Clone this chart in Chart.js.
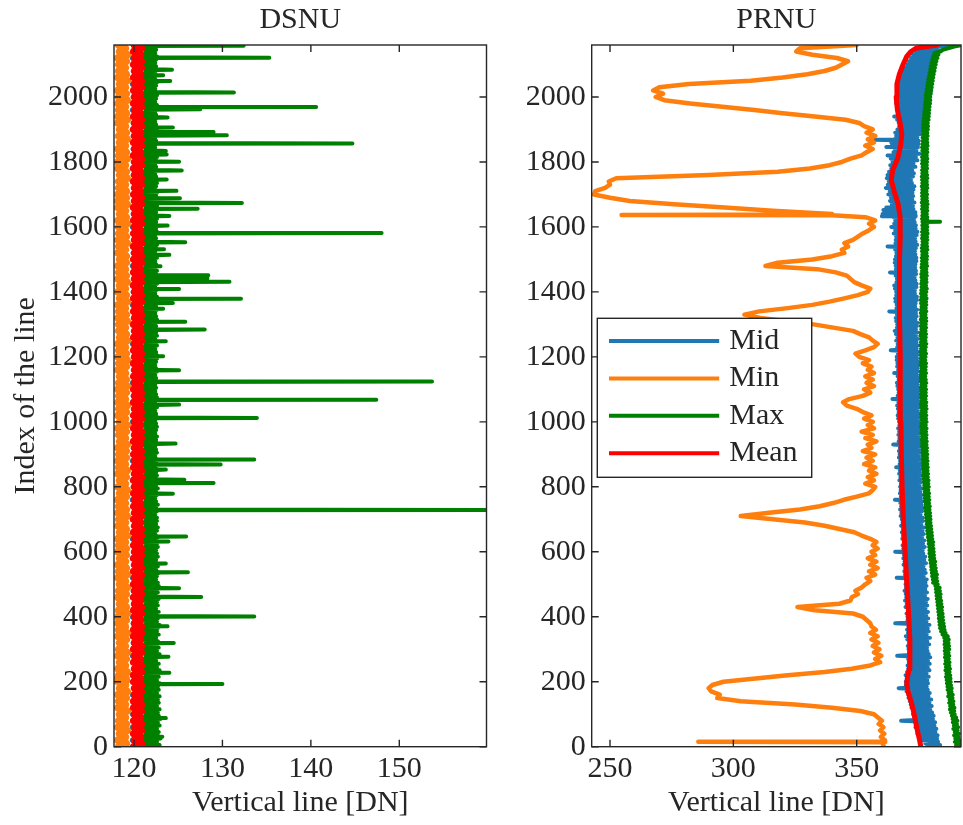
<!DOCTYPE html>
<html>
<head>
<meta charset="utf-8">
<script src="https://cdn.jsdelivr.net/npm/chart.js@4.4.0/dist/chart.umd.min.js"></script>
<style>
  body { margin: 0; background: #fff; }
  #wrap { position: relative; width: 963px; height: 825px; }
  canvas { position: absolute; top: 0; }
</style>
</head>
<body>
<div id="wrap">
  <canvas id="dsnu" width="490" height="825" style="left:0px"></canvas>
  <canvas id="prnu" width="473" height="825" style="left:490px"></canvas>
</div>
<script>
// line index (y axis) for values read every 10 lines
const lineIndex = [
  0,10,20,30,40,50,60,70,80,90,
  100,110,120,130,140,150,160,170,180,190,
  200,210,220,230,240,250,260,270,280,290,
  300,310,320,330,340,350,360,370,380,390,
  400,410,420,430,440,450,460,470,480,490,
  500,510,520,530,540,550,560,570,580,590,
  600,610,620,630,640,650,660,670,680,690,
  700,710,720,730,740,750,760,770,780,790,
  800,810,820,830,840,850,860,870,880,890,
  900,910,920,930,940,950,960,970,980,990,
  1000,1010,1020,1030,1040,1050,1060,1070,1080,1090,
  1100,1110,1120,1130,1140,1150,1160,1170,1180,1190,
  1200,1210,1220,1230,1240,1250,1260,1270,1280,1290,
  1300,1310,1320,1330,1340,1350,1360,1370,1380,1390,
  1400,1410,1420,1430,1440,1450,1460,1470,1480,1490,
  1500,1510,1520,1530,1540,1550,1560,1570,1580,1590,
  1600,1610,1620,1630,1640,1650,1660,1670,1680,1690,
  1700,1710,1720,1730,1740,1750,1760,1770,1780,1790,
  1800,1810,1820,1830,1840,1850,1860,1870,1880,1890,
  1900,1910,1920,1930,1940,1950,1960,1970,1980,1990,
  2000,2010,2020,2030,2040,2050,2060,2070,2080,2090,
  2100,2110,2120,2130,2140,2150,2160
];
// line index for the noisier series, read every 5 lines
const fineIndex = [
  0,5,10,15,20,25,30,35,40,45,50,55,60,65,70,75,80,85,90,95,
  100,105,110,115,120,125,130,135,140,145,150,155,160,165,170,175,180,185,190,195,
  200,205,210,215,220,225,230,235,240,245,250,255,260,265,270,275,280,285,290,295,
  300,305,310,315,320,325,330,335,340,345,350,355,360,365,370,375,380,385,390,395,
  400,405,410,415,420,425,430,435,440,445,450,455,460,465,470,475,480,485,490,495,
  500,505,510,515,520,525,530,535,540,545,550,555,560,565,570,575,580,585,590,595,
  600,605,610,615,620,625,630,635,640,645,650,655,660,665,670,675,680,685,690,695,
  700,705,710,715,720,725,730,735,740,745,750,755,760,765,770,775,780,785,790,795,
  800,805,810,815,820,825,830,835,840,845,850,855,860,865,870,875,880,885,890,895,
  900,905,910,915,920,925,930,935,940,945,950,955,960,965,970,975,980,985,990,995,
  1000,1005,1010,1015,1020,1025,1030,1035,1040,1045,1050,1055,1060,1065,1070,1075,1080,1085,1090,1095,
  1100,1105,1110,1115,1120,1125,1130,1135,1140,1145,1150,1155,1160,1165,1170,1175,1180,1185,1190,1195,
  1200,1205,1210,1215,1220,1225,1230,1235,1240,1245,1250,1255,1260,1265,1270,1275,1280,1285,1290,1295,
  1300,1305,1310,1315,1320,1325,1330,1335,1340,1345,1350,1355,1360,1365,1370,1375,1380,1385,1390,1395,
  1400,1405,1410,1415,1420,1425,1430,1435,1440,1445,1450,1455,1460,1465,1470,1475,1480,1485,1490,1495,
  1500,1505,1510,1515,1520,1525,1530,1535,1540,1545,1550,1555,1560,1565,1570,1575,1580,1585,1590,1595,
  1600,1605,1610,1615,1620,1625,1630,1635,1640,1645,1650,1655,1660,1665,1670,1675,1680,1685,1690,1695,
  1700,1705,1710,1715,1720,1725,1730,1735,1740,1745,1750,1755,1760,1765,1770,1775,1780,1785,1790,1795,
  1800,1805,1810,1815,1820,1825,1830,1835,1840,1845,1850,1855,1860,1865,1870,1875,1880,1885,1890,1895,
  1900,1905,1910,1915,1920,1925,1930,1935,1940,1945,1950,1955,1960,1965,1970,1975,1980,1985,1990,1995,
  2000,2005,2010,2015,2020,2025,2030,2035,2040,2045,2050,2055,2060,2065,2070,2075,2080,2085,2090,2095,
  2100,2105,2110,2115,2120,2125,2130,2135,2140,2145,2150,2155,2160
];

const seriesNames = ['Mid', 'Min', 'Max', 'Mean'];
const yTicks = [0, 200, 400, 600, 800, 1000, 1200, 1400, 1600, 1800, 2000];
const dsnuXTicks = [120, 130, 140, 150];
const prnuXTicks = [250, 300, 350];

// ---- DSNU ----
const dsnuMid = [
  120.0,120.8,119.9,120.9,120.1,120.7,119.9,120.8,120.0,120.9,
  119.9,120.8,120.1,120.9,120.0,120.7,119.9,120.9,120.1,120.8,
  120.0,120.9,119.9,120.8,120.1,120.9,120.0,120.7,119.9,120.8,
  120.1,120.8,120.0,120.9,119.9,120.8,120.1,120.7,120.0,120.9,
  119.9,120.9,120.0,120.8,120.1,120.7,119.9,120.9,120.0,120.8,
  120.0,120.7,119.9,120.9,120.0,120.8,120.1,120.9,119.9,120.8,
  120.1,120.9,120.0,120.8,119.9,120.9,120.0,120.7,120.1,120.8,
  119.9,120.8,120.1,120.9,120.0,120.8,119.9,120.9,120.0,120.7,
  120.0,120.9,119.9,120.7,120.1,120.8,120.0,120.9,119.9,120.8,
  120.1,120.8,120.0,120.9,119.9,120.7,120.1,120.8,120.0,120.9,
  119.9,120.7,120.0,120.8,120.1,120.9,119.9,120.8,120.0,120.9,
  120.0,120.9,119.9,120.8,120.0,120.7,120.1,120.9,119.9,120.8,
  120.1,120.8,120.0,120.9,119.9,120.8,120.0,120.7,120.1,120.9,
  119.9,120.9,120.1,120.7,120.0,120.8,119.9,120.9,120.0,120.8,
  120.0,120.8,119.9,120.9,120.1,120.8,120.0,120.9,119.9,120.7,
  120.1,120.9,120.0,120.8,119.9,120.9,120.1,120.7,120.0,120.8,
  119.9,120.8,120.0,120.9,120.0,120.7,119.9,120.8,120.1,120.9,
  120.0,120.7,120.1,120.8,119.9,120.9,120.0,120.8,119.9,120.9,
  120.1,120.9,119.9,120.8,120.0,120.9,120.1,120.7,120.0,120.8,
  119.9,120.8,120.0,120.9,120.1,120.8,119.9,120.9,120.0,120.7,
  120.0,120.9,120.1,120.7,119.9,120.8,120.0,120.9,120.1,120.8,
  120.0,120.8,119.9,120.9,120.1,120.8,120.0
];
const dsnuMin = [
  118.3,119.1,118.2,119.0,118.4,119.2,118.2,119.1,118.3,119.0,
  118.4,119.2,118.2,119.0,118.3,119.1,118.2,119.2,118.4,119.0,
  118.2,119.1,118.3,119.2,118.2,119.0,118.4,119.1,118.2,119.2,
  118.3,119.0,118.4,119.1,118.2,119.2,118.3,119.0,118.2,119.1,
  118.2,119.2,118.3,119.1,118.4,119.0,118.2,119.1,118.3,119.2,
  118.4,119.0,118.2,119.2,118.3,119.1,118.2,119.0,118.4,119.1,
  118.2,119.1,118.3,119.0,118.2,119.2,118.4,119.1,118.2,119.0,
  118.3,119.2,118.2,119.1,118.3,119.0,118.2,119.1,118.4,119.2,
  118.2,119.0,118.4,119.1,118.2,119.2,118.3,119.0,118.2,119.1,
  118.3,119.1,118.2,119.2,118.4,119.0,118.3,119.1,118.2,119.2,
  118.4,119.0,118.2,119.1,118.3,119.2,118.2,119.0,118.3,119.1,
  118.2,119.2,118.3,119.1,118.4,119.0,118.2,119.1,118.3,119.2,
  118.2,119.1,118.3,119.0,118.2,119.2,118.4,119.1,118.3,119.0,
  118.3,119.2,118.2,119.1,118.3,119.0,118.2,119.2,118.4,119.1,
  118.2,119.0,118.4,119.2,118.2,119.1,118.3,119.0,118.2,119.1,
  118.4,119.1,118.2,119.0,118.3,119.2,118.2,119.1,118.3,119.0,
  118.3,119.2,118.2,119.1,118.4,119.0,118.2,119.2,118.2,119.1,
  118.2,119.1,118.3,119.0,118.3,119.2,118.4,119.1,118.2,119.0,
  118.2,119.2,118.3,119.1,118.2,119.0,118.4,119.2,118.3,119.1,
  118.4,119.0,118.2,119.2,118.2,119.1,118.3,119.0,118.2,119.2,
  118.3,119.1,118.2,119.0,118.4,119.2,118.2,119.1,118.3,119.0,
  118.3,119.1,118.2,119.2,118.4,119.0,118.3
];
const dsnuMinSpikes = [[205, 117.75]];
const dsnuMax = [
  121.2,122.9,121.3,122.6,121.1,123.0,121.2,122.7,121.3,122.8,121.2,122.6,121.1,122.9,121.3,122.7,121.2,123.0,121.1,122.8,
  121.3,122.7,121.2,122.9,121.1,122.6,121.3,122.8,121.2,122.7,121.1,122.9,121.2,122.6,121.3,122.8,121.1,122.7,121.2,122.9,
  121.2,122.6,121.1,122.8,121.3,122.7,121.2,122.9,121.1,122.6,121.3,122.8,121.2,122.5,121.1,122.7,121.3,122.9,121.2,122.6,
  121.1,122.8,121.2,122.6,121.3,122.7,121.1,122.5,121.2,122.8,121.3,122.6,121.1,122.7,121.2,122.9,121.3,122.6,121.1,122.7,
  121.3,122.6,121.2,122.8,121.1,122.5,121.2,122.7,121.3,122.6,121.1,122.8,121.2,122.5,121.3,122.7,121.1,122.6,121.2,122.8,
  121.2,122.7,121.3,122.5,121.1,122.6,121.2,122.8,121.3,122.5,121.2,122.7,121.1,122.6,121.3,122.5,121.2,122.7,121.1,122.6,
  121.1,122.5,121.2,122.7,121.3,122.6,121.1,122.5,121.2,122.7,121.3,122.4,121.2,122.6,121.1,122.7,121.3,122.5,121.2,122.6,
  121.3,122.6,121.1,122.4,121.2,122.6,121.3,122.5,121.1,122.7,121.2,122.5,121.3,122.4,121.1,122.6,121.2,122.5,121.3,122.7,
  121.2,122.5,121.3,122.6,121.1,122.4,121.2,122.6,121.3,122.5,121.1,122.6,121.2,122.4,121.3,122.5,121.1,122.7,121.2,122.4,
  121.1,122.6,121.2,122.5,121.3,122.4,121.1,122.6,121.2,122.5,121.3,122.6,121.1,122.4,121.2,122.5,121.3,122.6,121.1,122.5,
  121.3,122.4,121.2,122.6,121.1,122.5,121.3,122.4,121.2,122.6,121.1,122.5,121.3,122.4,121.2,122.6,121.1,122.5,121.3,122.4,
  121.2,122.5,121.1,122.4,121.3,122.6,121.2,122.5,121.1,122.4,121.3,122.6,121.2,122.5,121.1,122.4,121.3,122.5,121.2,122.6,
  121.1,122.6,121.3,122.5,121.2,122.4,121.1,122.6,121.3,122.5,121.2,122.4,121.1,122.6,121.3,122.5,121.2,122.4,121.1,122.5,
  121.3,122.4,121.2,122.6,121.1,122.5,121.3,122.4,121.2,122.6,121.1,122.5,121.3,122.4,121.2,122.5,121.1,122.6,121.3,122.4,
  121.2,122.5,121.1,122.4,121.3,122.6,121.2,122.5,121.1,122.4,121.3,122.5,121.2,122.6,121.1,122.4,121.3,122.5,121.2,122.4,
  121.1,122.6,121.3,122.5,121.2,122.4,121.1,122.5,121.3,122.6,121.2,122.4,121.1,122.5,121.3,122.4,121.2,122.6,121.1,122.5,
  121.3,122.4,121.2,122.5,121.1,122.6,121.3,122.4,121.2,122.5,121.1,122.4,121.3,122.6,121.2,122.5,121.1,122.4,121.3,122.5,
  121.2,122.6,121.1,122.4,121.3,122.5,121.2,122.6,121.1,122.4,121.3,122.5,121.2,122.4,121.1,122.6,121.3,122.5,121.2,122.4,
  121.1,122.5,121.3,122.6,121.2,122.4,121.1,122.5,121.3,122.4,121.2,122.6,121.1,122.5,121.3,122.4,121.2,122.5,121.1,122.6,
  121.3,122.4,121.2,122.5,121.1,122.4,121.3,122.6,121.2,122.5,121.1,122.4,121.3,122.5,121.2,122.6,121.1,122.4,121.3,122.5,
  121.2,122.6,121.1,122.5,121.3,122.4,121.2,122.5,121.1,122.6,121.3,122.4,121.2,122.5,121.1,122.4,121.3,122.6,121.2,122.5,
  121.1,122.4,121.3,122.5,121.2,122.6,121.1,122.4,121.3,122.5,121.2,122.6,121.2
];
// single hot lines: [line index, value]
const dsnuMaxSpikes = [
  [31,123.2],[88,123.6],[193,130.0],[228,124.0],[277,123.9],[319,124.5],[371,123.8],
  [401,133.6],[461,127.6],[488,125.1],[537,126.1],[564,123.6],[632,123.9],[647,125.9],
  [729,160.0],[779,124.4],[812,129.0],[822,125.7],[853,123.6],[869,129.8],[884,133.6],
  [933,124.7],[1012,133.9],[1053,125.1],[1068,147.4],[1124,153.7],[1159,125.1],
  [1202,123.3],[1248,123.6],[1284,128.0],[1308,125.8],[1348,123.3],[1366,124.4],
  [1379,132.1],[1409,125.1],[1431,130.8],[1441,128.3],[1446,128.3],[1451,128.4],
  [1479,123.0],[1514,124.0],[1531,123.4],[1553,125.8],[1581,148.0],[1604,123.8],
  [1634,124.0],[1656,127.2],[1674,132.2],[1688,125.2],[1711,124.8],[1746,123.7],
  [1774,125.4],[1801,125.1],[1823,123.7],[1834,123.6],[1857,144.7],[1882,130.5],
  [1892,129.0],[1906,124.4],[1937,123.8],[1962,127.5],[1969,140.6],[2014,131.3],
  [2049,124.1],[2067,123.3],[2084,124.3],[2121,135.3],[2158,132.4]
];
const dsnuMean = [
  120.0,120.8,120.1,120.7,120.0,120.8,120.1,120.8,120.0,120.7,
  120.1,120.8,120.0,120.8,120.0,120.7,120.1,120.8,120.1,120.8,
  120.0,120.7,120.0,120.8,120.1,120.8,120.0,120.7,120.1,120.8,
  120.0,120.8,120.1,120.7,120.0,120.8,120.0,120.8,120.1,120.7,
  120.1,120.8,120.0,120.8,120.1,120.7,120.0,120.8,120.1,120.8,
  120.0,120.7,120.1,120.8,120.0,120.8,120.1,120.7,120.0,120.8,
  120.1,120.8,120.0,120.7,120.1,120.8,120.0,120.8,120.1,120.7,
  120.0,120.8,120.1,120.8,120.0,120.7,120.1,120.8,120.0,120.8,
  120.1,120.7,120.0,120.8,120.1,120.8,120.0,120.7,120.1,120.8,
  120.0,120.8,120.1,120.7,120.0,120.8,120.1,120.8,120.0,120.7,
  120.1,120.8,120.0,120.8,120.1,120.7,120.0,120.8,120.1,120.8,
  120.0,120.7,120.1,120.8,120.0,120.8,120.1,120.7,120.0,120.8,
  120.1,120.8,120.0,120.7,120.1,120.8,120.0,120.8,120.1,120.7,
  120.0,120.8,120.1,120.8,120.0,120.7,120.1,120.8,120.0,120.8,
  120.1,120.7,120.0,120.8,120.1,120.8,120.0,120.7,120.1,120.8,
  120.0,120.8,120.1,120.7,120.0,120.8,120.1,120.8,120.0,120.7,
  120.1,120.8,120.0,120.8,120.1,120.7,120.0,120.8,120.1,120.8,
  120.0,120.7,120.1,120.8,120.0,120.8,120.1,120.7,120.0,120.8,
  120.1,120.8,120.0,120.7,120.1,120.8,120.0,120.8,120.1,120.7,
  120.0,120.8,120.1,120.8,120.0,120.7,120.1,120.8,120.0,120.8,
  120.1,120.7,120.0,120.8,120.1,120.8,120.0,120.7,120.1,120.8,
  120.0,120.8,120.1,120.7,120.0,120.8,120.1
];

// ---- PRNU ----
const prnuMid = [
  378.5,383.8,377.8,383.0,376.0,382.6,375.2,382.8,374.6,381.9,374.9,382.3,373.8,381.5,374.2,381.8,368.0,380.9,373.4,381.2,
  372.8,380.6,373.0,379.8,372.2,380.4,371.9,379.5,371.5,380.2,371.0,379.1,370.9,379.6,370.2,378.8,367.0,378.4,369.9,378.9,
  369.9,378.6,370.3,379.2,369.8,378.3,370.4,379.5,370.9,378.8,370.6,379.6,371.1,378.9,370.8,379.8,366.4,379.2,371.2,378.7,
  371.0,378.5,370.7,379.4,371.3,378.6,370.5,379.7,369.9,378.4,370.8,379.2,370.4,378.8,371.0,379.5,365.6,378.3,370.6,379.0,
  370.6,378.2,370.2,378.9,370.8,377.9,369.8,378.6,370.3,378.1,369.6,378.8,370.1,377.7,369.9,378.5,369.4,377.8,370.0,378.3,
  369.8,377.9,370.1,378.4,366.2,377.2,369.6,378.0,369.3,377.6,369.8,377.1,369.0,378.1,369.4,377.4,368.9,377.8,369.2,377.0,
  365.6,376.8,368.9,377.6,368.6,376.9,369.1,377.4,368.5,376.5,368.8,377.2,368.3,376.7,368.9,377.3,368.0,376.2,368.6,376.9,
  368.3,376.8,367.8,375.9,368.1,376.5,367.6,377.0,368.0,376.2,367.7,376.7,365.5,376.0,367.9,376.4,367.5,375.8,367.8,376.6,
  367.6,375.5,367.9,376.3,367.3,375.8,367.7,376.4,367.2,375.6,367.5,376.0,366.0,376.8,367.4,375.4,367.6,376.1,367.1,375.2,
  367.4,376.0,367.1,375.3,367.5,375.9,364.8,376.2,367.0,375.5,367.3,375.0,366.9,375.7,367.2,375.8,366.8,375.1,367.3,375.6,
  367.2,375.1,366.8,375.8,366.6,376.0,367.0,374.8,366.7,375.4,366.4,375.6,366.9,374.9,364.5,375.3,366.6,374.7,367.0,375.2,
  366.8,375.3,366.5,374.6,366.3,375.0,367.0,375.5,366.6,374.4,365.2,374.8,366.8,374.6,366.4,375.1,366.5,375.0,366.2,374.5,
  366.2,374.5,366.7,375.0,363.8,374.3,366.4,374.8,366.6,374.2,366.0,374.7,366.5,374.0,365.9,374.6,365.4,374.0,366.3,374.4,
  366.4,374.6,366.0,373.8,365.8,374.3,366.3,374.0,363.2,374.5,366.1,373.7,366.2,373.9,365.7,374.4,365.6,374.4,366.0,373.6,
  366.0,373.6,365.5,374.2,365.2,374.3,366.1,373.8,366.3,373.5,365.8,374.1,363.5,374.0,365.9,373.7,365.8,373.8,365.4,374.2,
  365.5,374.2,365.9,373.8,366.1,373.6,365.6,374.0,362.5,374.5,365.7,373.9,365.8,373.7,366.0,374.3,365.0,374.6,365.6,373.9,
  364.0,374.0,365.2,373.5,365.6,373.2,364.8,373.9,360.5,373.8,364.6,373.0,362.0,372.8,364.2,373.4,363.5,372.5,363.9,372.9,
  362.8,372.6,363.4,373.0,361.8,373.4,362.6,372.4,363.0,372.0,362.2,372.8,362.5,373.2,363.1,372.5,364.0,373.8,363.6,373.0,
  364.5,374.6,363.8,374.0,362.5,375.4,364.9,374.2,365.5,374.8,364.2,375.0,364.0,375.2,365.3,374.6,366.0,375.6,365.6,375.9,
  366.5,377.8,367.2,378.2,367.0,378.5,366.4,377.9,365.2,379.0,366.9,378.6,366.8,378.2,367.1,379.3,366.0,379.4,366.6,378.8,
  367.5,379.6,367.0,380.0,366.8,380.2,367.4,379.8,367.8,379.5,367.6,380.4,368.2,380.6,368.0,380.1,368.5,380.0,368.9,380.5,
  370.5,380.8,371.2,381.2,372.0,381.5,372.8,382.0,374.0,383.0,378.0,384.5,388.0
];
const prnuMidSpikes = [[1633,360.2],[1652,360.8],[1846,362.0],[1868,357.5]];
const prnuMin = [
  361.0,360.5,361.5,359.8,361.2,359.5,360.8,358.9,360.2,358.6,
  357.0,351.5,340.0,325.0,303.0,293.5,294.5,291.0,290.0,291.5,
  296.0,309.0,322.0,337.0,348.0,355.5,359.5,357.5,360.0,357.0,
  359.2,356.5,358.8,356.0,358.5,355.5,357.8,356.0,355.5,354.0,
  352.5,348.5,333.0,326.0,343.0,347.5,348.0,350.5,349.5,352.0,
  353.5,355.5,354.0,357.5,355.0,358.5,355.5,358.0,354.5,357.5,
  356.0,358.5,356.5,358.0,355.5,352.0,349.0,343.0,337.0,329.0,
  316.0,303.0,314.5,327.0,335.0,340.5,344.8,350.0,355.0,356.5,
  357.5,353.5,357.0,354.5,358.0,355.0,357.5,353.0,356.5,354.0,
  357.5,352.5,356.0,354.5,358.0,353.5,356.5,352.0,357.0,354.5,
  356.5,353.0,356.0,352.5,350.0,346.0,344.5,347.0,352.5,355.5,
  353.0,357.0,354.0,356.5,353.5,357.0,354.5,356.0,352.5,355.0,
  351.0,349.5,353.5,357.0,358.5,356.5,355.0,351.5,348.5,340.5,
  332.5,322.0,311.0,304.5,310.5,322.0,332.0,339.0,345.0,350.5,
  354.5,355.5,352.0,349.0,347.5,346.0,341.5,334.0,313.0,318.0,
  332.0,340.0,345.0,344.0,346.5,345.0,348.5,350.5,352.5,355.0,
  357.0,355.0,357.5,353.5,340.0,316.0,296.5,276.0,258.0,250.0,
  243.5,244.0,248.0,250.0,249.5,252.5,290.0,318.0,331.0,339.0,
  344.0,347.5,352.0,354.0,356.5,353.5,357.0,354.5,357.5,354.0,
  356.5,353.0,351.0,345.5,333.0,320.0,308.5,295.5,282.5,272.0,
  268.5,271.5,267.5,270.0,282.0,307.0,320.0,330.0,337.0,341.5,
  344.0,346.5,342.0,332.0,325.5,327.0,350.0
];
const prnuMinSpikes = [[15,285.8],[1637,254.7]];
const prnuMax = [
  391.8,390.3,391.6,389.8,391.7,390.0,391.2,389.5,391.4,389.8,390.9,389.2,391.1,389.4,390.6,389.0,390.8,388.9,390.3,388.6,
  389.7,388.2,389.5,387.8,389.6,387.9,389.1,387.5,389.2,387.7,388.8,387.1,388.9,387.3,388.4,386.9,388.5,386.8,388.2,386.6,
  388.1,386.5,388.0,386.2,387.9,386.4,387.6,386.0,387.8,386.2,387.5,385.9,387.6,386.1,387.3,385.8,387.5,385.9,387.2,385.7,
  387.5,385.8,387.4,385.6,387.2,385.7,387.3,385.5,386.9,384.8,386.0,384.2,385.6,383.8,385.4,383.6,385.2,383.5,385.0,383.3,
  384.9,383.3,384.8,383.1,384.5,383.0,384.6,382.8,384.3,382.7,384.2,382.5,383.9,382.4,384.0,382.2,383.7,382.1,383.6,381.9,
  382.8,381.0,382.6,380.9,382.4,380.6,382.5,380.5,382.1,380.3,382.0,380.2,381.7,380.0,381.8,379.8,381.4,379.7,381.3,379.5,
  381.2,379.5,381.1,379.4,380.9,379.2,381.0,379.1,380.6,378.9,380.5,378.8,380.4,378.6,380.2,378.5,380.1,378.4,379.9,378.3,
  379.9,378.2,379.8,378.1,379.7,378.0,379.5,377.8,379.6,377.9,379.3,377.7,379.4,377.6,379.2,377.5,379.3,377.6,379.0,377.4,
  379.2,377.4,379.0,377.3,379.1,377.2,378.8,377.0,378.9,377.1,378.7,376.9,378.8,377.0,378.6,376.8,378.7,376.9,378.5,376.7,
  378.6,376.8,378.4,376.7,378.5,376.5,378.3,376.6,378.4,376.4,378.2,376.5,378.3,376.3,378.1,376.4,378.3,376.2,378.0,376.3,
  378.3,376.4,378.1,376.3,378.2,376.2,378.0,376.4,378.3,376.2,378.1,376.1,378.2,376.3,377.9,376.2,378.1,376.0,378.0,376.2,
  378.1,376.1,377.9,376.2,378.2,376.0,378.0,376.1,377.8,375.9,378.1,376.0,377.9,376.2,378.0,375.9,378.1,376.1,377.8,376.0,
  377.9,376.0,378.1,375.9,377.8,376.1,378.0,375.9,378.2,376.0,377.9,376.1,378.0,375.8,378.1,376.0,377.9,376.2,378.1,376.0,
  378.0,376.1,378.2,376.0,378.1,376.2,377.9,376.0,378.2,376.1,378.0,376.3,378.2,376.1,378.1,376.0,378.3,376.2,378.0,376.1,
  378.2,376.2,378.4,376.3,378.1,376.2,378.3,376.4,378.2,376.3,378.4,376.2,378.3,376.5,378.2,376.3,378.5,376.4,378.3,376.5,
  378.4,376.4,378.5,376.6,378.3,376.5,378.6,376.4,378.5,376.6,378.4,376.7,378.6,376.5,378.5,376.6,378.7,376.5,378.5,376.7,
  378.6,376.6,378.5,376.7,378.7,376.5,378.6,376.6,378.4,376.7,378.6,376.5,378.5,376.6,378.7,376.4,378.5,376.6,378.4,376.5,
  378.5,376.5,378.3,376.6,378.6,376.4,378.5,376.6,378.4,376.5,378.6,376.4,378.5,376.6,378.3,376.5,378.5,376.7,378.4,376.5,
  378.5,376.6,378.6,376.5,378.4,376.7,378.6,376.6,378.5,376.5,378.7,376.6,378.6,376.8,378.5,376.7,378.7,376.8,378.6,376.9,
  378.8,376.9,378.9,377.0,378.8,377.1,379.1,377.2,379.2,377.3,379.3,377.4,379.4,377.6,379.5,377.7,379.7,377.8,379.8,378.0,
  379.8,378.0,380.0,378.2,380.2,378.4,380.4,378.6,380.6,378.8,380.8,379.0,381.0,379.3,381.2,379.5,381.5,379.8,381.7,380.0,
  382.0,380.3,382.3,380.6,382.7,381.0,383.1,381.5,384.0,384.8,387.0,389.5,393.0
];
const prnuMaxSpikes = [[1616,383.8]];
const prnuMeanIndex = [
  0,20,50,80,110,140,170,195,215,240,280,330,400,480,560,640,720,800,900,1000,
  1100,1200,1300,1400,1500,1580,1630,1670,1710,1745,1775,1810,1850,1885,1920,
  1960,2000,2040,2070,2100,2125,2140,2150,2160
];
const prnuMean = [
  376.0,375.5,374.6,373.8,373.0,372.0,370.8,370.3,370.6,371.3,371.6,371.5,371.1,
  370.5,369.9,369.3,368.8,368.4,368.1,367.9,367.7,367.6,367.4,367.3,367.4,367.7,
  367.6,366.8,365.2,364.0,364.6,366.6,367.8,368.3,367.6,366.5,366.0,366.3,367.3,
  368.8,370.3,372.0,374.0,382.5
];

const ink = '#262626';
const serif = "'Liberation Serif', 'DejaVu Serif', serif";
const textFont = { family: serif, size: 30, weight: 'normal', lineHeight: 1.2 };
const colors = ['#1f77b4', '#ff7f0e', '#008000', '#ff0000'];

function toPoints(values, idx) {
  return values.map((v, i) => ({ x: v, y: idx[i] }));
}

// a hot line sits between two neighbours at the local level
function withSpikes(values, idx, spikes) {
  const step = idx[1] - idx[0];
  const pts = toPoints(values, idx);
  spikes.forEach(([s, v]) => {
    const base = values[Math.min(values.length - 1, Math.round(s / step))];
    pts.push({ x: base, y: s - 1 }, { x: v, y: s }, { x: base, y: s + 1 });
  });
  return pts.sort((a, b) => a.y - b.y);
}

function makeDatasets(series, widths) {
  return series.map((data, i) => ({
    label: seriesNames[i],
    data: data,
    showLine: true,
    borderColor: colors[i],
    backgroundColor: colors[i],
    borderWidth: widths[i],
    borderJoinStyle: 'round',
    borderCapStyle: 'round',
    pointRadius: 0,
    tension: 0,
    clip: 0,
    order: 3 - i   // Mean drawn on top
  }));
}

// box and inward ticks on all four sides
const framePlugin = {
  id: 'frame',
  afterDatasetsDraw(chart) {
    const { ctx, chartArea: a, scales: { x, y } } = chart;
    const len = 7;
    ctx.save();
    ctx.strokeStyle = ink;
    ctx.lineWidth = 1.4;
    ctx.beginPath();
    x.ticks.forEach(t => {
      const px = x.getPixelForValue(t.value);
      ctx.moveTo(px, a.bottom); ctx.lineTo(px, a.bottom - len);
      ctx.moveTo(px, a.top); ctx.lineTo(px, a.top + len);
    });
    y.ticks.forEach(t => {
      const py = y.getPixelForValue(t.value);
      ctx.moveTo(a.left, py); ctx.lineTo(a.left + len, py);
      ctx.moveTo(a.right, py); ctx.lineTo(a.right - len, py);
    });
    ctx.stroke();
    ctx.strokeRect(a.left, a.top, a.right - a.left, a.bottom - a.top);
    ctx.restore();
  }
};

// legend drawn inside the PRNU axes
const legendPlugin = {
  id: 'insideLegend',
  afterDraw(chart) {
    const { ctx, chartArea: a } = chart;
    const x0 = a.left + 5.6, y0 = a.top + 273.3, w = 214.4, h = 159;
    ctx.save();
    ctx.fillStyle = '#ffffff';
    ctx.fillRect(x0, y0, w, h);
    ctx.strokeStyle = ink;
    ctx.lineWidth = 1.4;
    ctx.strokeRect(x0, y0, w, h);
    ctx.font = '30px ' + serif;
    ctx.textBaseline = 'middle';
    ctx.textAlign = 'left';
    chart.data.datasets.forEach((ds, i) => {
      const yy = y0 + 22.7 + i * 37.4;
      ctx.strokeStyle = ds.borderColor;
      ctx.lineWidth = 4;
      ctx.beginPath();
      ctx.moveTo(x0 + 11.7, yy);
      ctx.lineTo(x0 + 121.9, yy);
      ctx.stroke();
      ctx.fillStyle = ink;
      ctx.fillText(ds.label, x0 + 132, yy);
    });
    ctx.restore();
  }
};

function makeOptions(p) {
  return {
    responsive: false,
    animation: false,
    devicePixelRatio: 1,
    events: [],
    layout: { padding: { left: 0, right: p.padRight, top: 0, bottom: 0 } },
    plugins: {
      legend: { display: false },
      tooltip: { enabled: false },
      title: {
        display: true, text: p.title, color: ink, font: textFont,
        fullSize: false, padding: { top: 2.3, bottom: 6.7 }
      }
    },
    scales: {
      x: {
        type: 'linear', position: 'bottom', min: p.xMin, max: p.xMax,
        afterBuildTicks: s => { s.ticks = p.xTicks.map(v => ({ value: v })); },
        afterFit: s => { s.height = 78.3; },
        grid: { display: false, drawTicks: false },
        border: { display: false },
        ticks: { color: ink, font: textFont, padding: 4.5, maxRotation: 0, autoSkip: false, callback: v => String(v) },
        title: { display: true, text: 'Vertical line [DN]', color: ink, font: textFont, padding: { top: 0, bottom: 3.7 } }
      },
      y: {
        type: 'linear', position: 'left', min: 0, max: 2160,
        afterBuildTicks: s => { s.ticks = yTicks.map(v => ({ value: v })); },
        afterFit: s => { s.width = p.yWidth; },
        grid: { display: false, drawTicks: false },
        border: { display: false },
        ticks: { color: ink, font: textFont, padding: 6, autoSkip: false, callback: v => String(v) },
        title: { display: p.yTitle, text: 'Index of the line', color: ink, font: textFont, padding: { top: 8, bottom: 0 } }
      }
    }
  };
}

new Chart(document.getElementById('dsnu'), {
  type: 'scatter',
  data: {
    datasets: makeDatasets([
      toPoints(dsnuMid, lineIndex),
      withSpikes(dsnuMin, lineIndex, dsnuMinSpikes),
      withSpikes(dsnuMax, fineIndex, dsnuMaxSpikes),
      toPoints(dsnuMean, lineIndex)
    ], [6.5, 8, 4, 8])
  },
  options: makeOptions({
    title: 'DSNU', xMin: 117.74, xMax: 159.86, xTicks: dsnuXTicks,
    yWidth: 114, padRight: 3.5, yTitle: true
  }),
  plugins: [framePlugin]
});

new Chart(document.getElementById('prnu'), {
  type: 'scatter',
  data: {
    datasets: makeDatasets([
      withSpikes(prnuMid, fineIndex, prnuMidSpikes),
      withSpikes(prnuMin, lineIndex, prnuMinSpikes),
      withSpikes(prnuMax, fineIndex, prnuMaxSpikes),
      toPoints(prnuMean, prnuMeanIndex)
    ], [4, 4.5, 4, 5])
  },
  options: makeOptions({
    title: 'PRNU', xMin: 242.58, xMax: 392.28, xTicks: prnuXTicks,
    yWidth: 101.7, padRight: 2, yTitle: false
  }),
  plugins: [framePlugin, legendPlugin]
});
</script>
</body>
</html>
